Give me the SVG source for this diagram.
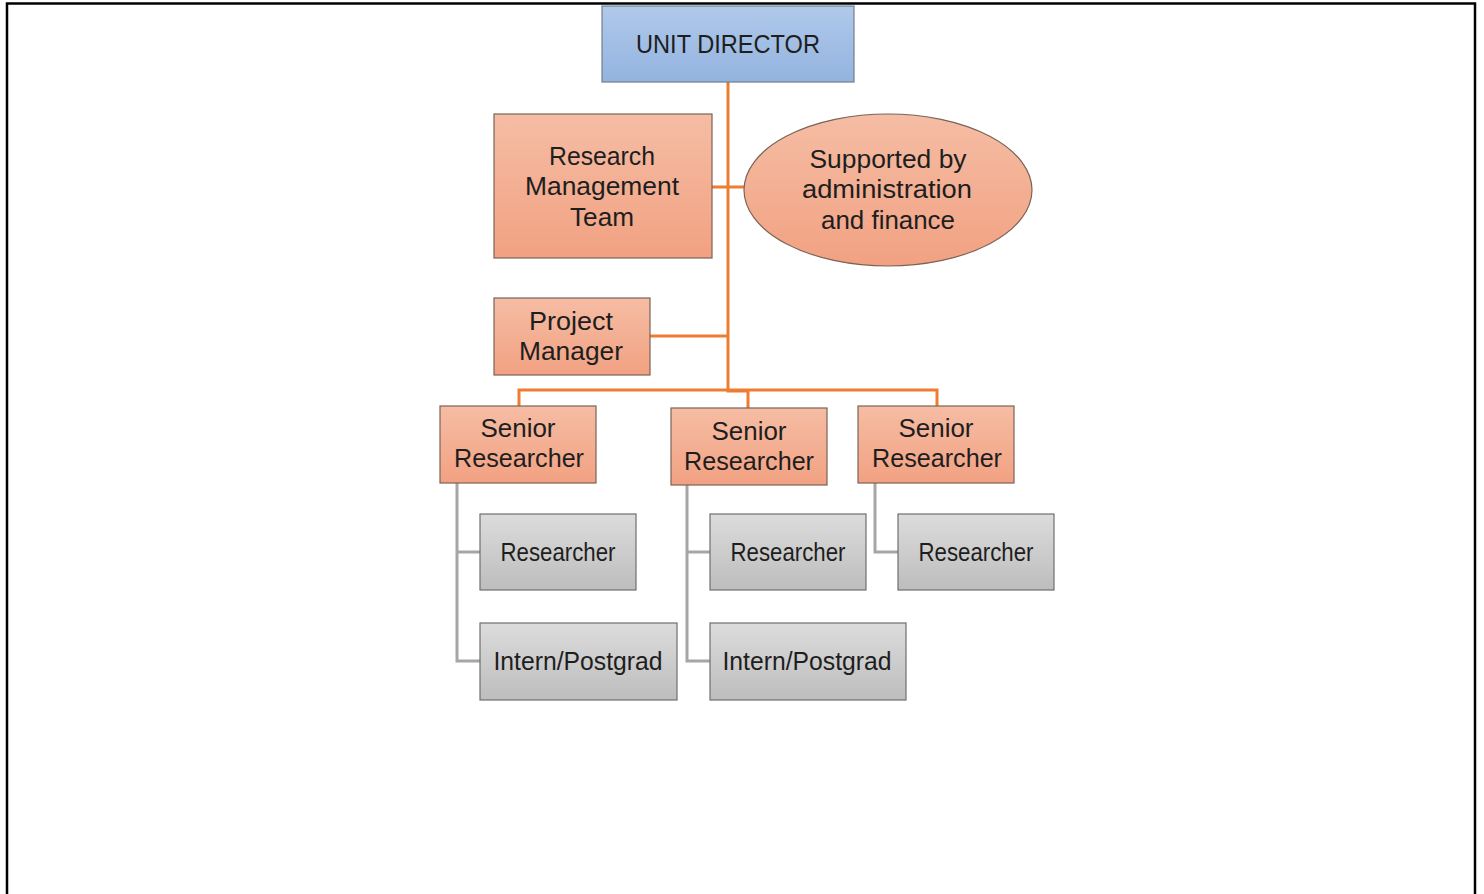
<svg xmlns="http://www.w3.org/2000/svg" width="1484" height="894" viewBox="0 0 1484 894">
<defs>
<linearGradient id="gBlue" x1="0" y1="0" x2="0" y2="1"><stop offset="0" stop-color="#b0c9ea"/><stop offset="1" stop-color="#93b3df"/></linearGradient>
<linearGradient id="gOr" x1="0" y1="0" x2="0" y2="1"><stop offset="0" stop-color="#f5bda4"/><stop offset="1" stop-color="#f2a182"/></linearGradient>
<linearGradient id="gGr" x1="0" y1="0" x2="0" y2="1"><stop offset="0" stop-color="#dcdcdc"/><stop offset="1" stop-color="#bdbdbd"/></linearGradient>
</defs>
<style>
.frame{fill:none;stroke:#000;stroke-width:2.5}
.blue{fill:url(#gBlue);stroke:#6f7f90;stroke-width:1.2}
.or{fill:url(#gOr);stroke:#7a6358;stroke-width:1.2}
.gr{fill:url(#gGr);stroke:#6f6f6f;stroke-width:1.2}
.t{font-family:"Liberation Sans",Arial,sans-serif;font-size:25px;fill:#1e1e1e;text-anchor:middle}
.oc{fill:none;stroke:#ed7d31;stroke-width:3}
.gc{fill:none;stroke:#a6a6a6;stroke-width:3}
</style>
<rect class="frame" x="7" y="3.5" width="1468" height="900"/>
<g id="connectors">
<path class="oc" d="M728 82 V391 H748 V408"/>
<path class="oc" d="M712 187 H744"/>
<path class="oc" d="M650 336 H728"/>
<path class="oc" d="M519 406 V390 H937 V406"/>
<path class="gc" d="M457 483 V661 H480 M457 552 H480"/>
<path class="gc" d="M687 485 V661 H710 M687 552 H710"/>
<path class="gc" d="M875 483 V552 H898"/>
</g>
<g id="unit-director"><rect class="blue" x="602" y="6" width="252" height="76"/><text class="t" x="728" y="53" textLength="184" lengthAdjust="spacingAndGlyphs">UNIT DIRECTOR</text></g>
<g id="rmt"><rect class="or" x="494" y="114" width="218" height="144"/>
<text class="t" x="602" y="165" textLength="106" lengthAdjust="spacingAndGlyphs">Research</text>
<text class="t" x="602" y="195" textLength="154" lengthAdjust="spacingAndGlyphs">Management</text>
<text class="t" x="602" y="226" textLength="64" lengthAdjust="spacingAndGlyphs">Team</text></g>
<g id="support"><ellipse class="or" cx="888" cy="190" rx="144" ry="76"/>
<text class="t" x="888" y="168" textLength="157" lengthAdjust="spacingAndGlyphs">Supported by</text>
<text class="t" x="887" y="198" textLength="170" lengthAdjust="spacingAndGlyphs">administration</text>
<text class="t" x="888" y="229" textLength="134" lengthAdjust="spacingAndGlyphs">and finance</text></g>
<g id="pm"><rect class="or" x="494" y="298" width="156" height="77"/>
<text class="t" x="571" y="330" textLength="84" lengthAdjust="spacingAndGlyphs">Project</text>
<text class="t" x="571" y="360" textLength="104" lengthAdjust="spacingAndGlyphs">Manager</text></g>
<g id="sr1"><rect class="or" x="440" y="406" width="156" height="77"/>
<text class="t" x="518" y="437" textLength="75" lengthAdjust="spacingAndGlyphs">Senior</text>
<text class="t" x="519" y="467" textLength="130" lengthAdjust="spacingAndGlyphs">Researcher</text></g>
<g id="sr2"><rect class="or" x="671" y="408" width="156" height="77"/>
<text class="t" x="749" y="440" textLength="75" lengthAdjust="spacingAndGlyphs">Senior</text>
<text class="t" x="749" y="470" textLength="130" lengthAdjust="spacingAndGlyphs">Researcher</text></g>
<g id="sr3"><rect class="or" x="858" y="406" width="156" height="77"/>
<text class="t" x="936" y="437" textLength="75" lengthAdjust="spacingAndGlyphs">Senior</text>
<text class="t" x="937" y="467" textLength="130" lengthAdjust="spacingAndGlyphs">Researcher</text></g>
<g id="r1"><rect class="gr" x="480" y="514" width="156" height="76"/><text class="t" x="558" y="561" textLength="115" lengthAdjust="spacingAndGlyphs">Researcher</text></g>
<g id="i1"><rect class="gr" x="480" y="623" width="197" height="77"/><text class="t" x="578" y="670" textLength="169" lengthAdjust="spacingAndGlyphs">Intern/Postgrad</text></g>
<g id="r2"><rect class="gr" x="710" y="514" width="156" height="76"/><text class="t" x="788" y="561" textLength="115" lengthAdjust="spacingAndGlyphs">Researcher</text></g>
<g id="i2"><rect class="gr" x="710" y="623" width="196" height="77"/><text class="t" x="807" y="670" textLength="169" lengthAdjust="spacingAndGlyphs">Intern/Postgrad</text></g>
<g id="r3"><rect class="gr" x="898" y="514" width="156" height="76"/><text class="t" x="976" y="561" textLength="115" lengthAdjust="spacingAndGlyphs">Researcher</text></g>
</svg>
